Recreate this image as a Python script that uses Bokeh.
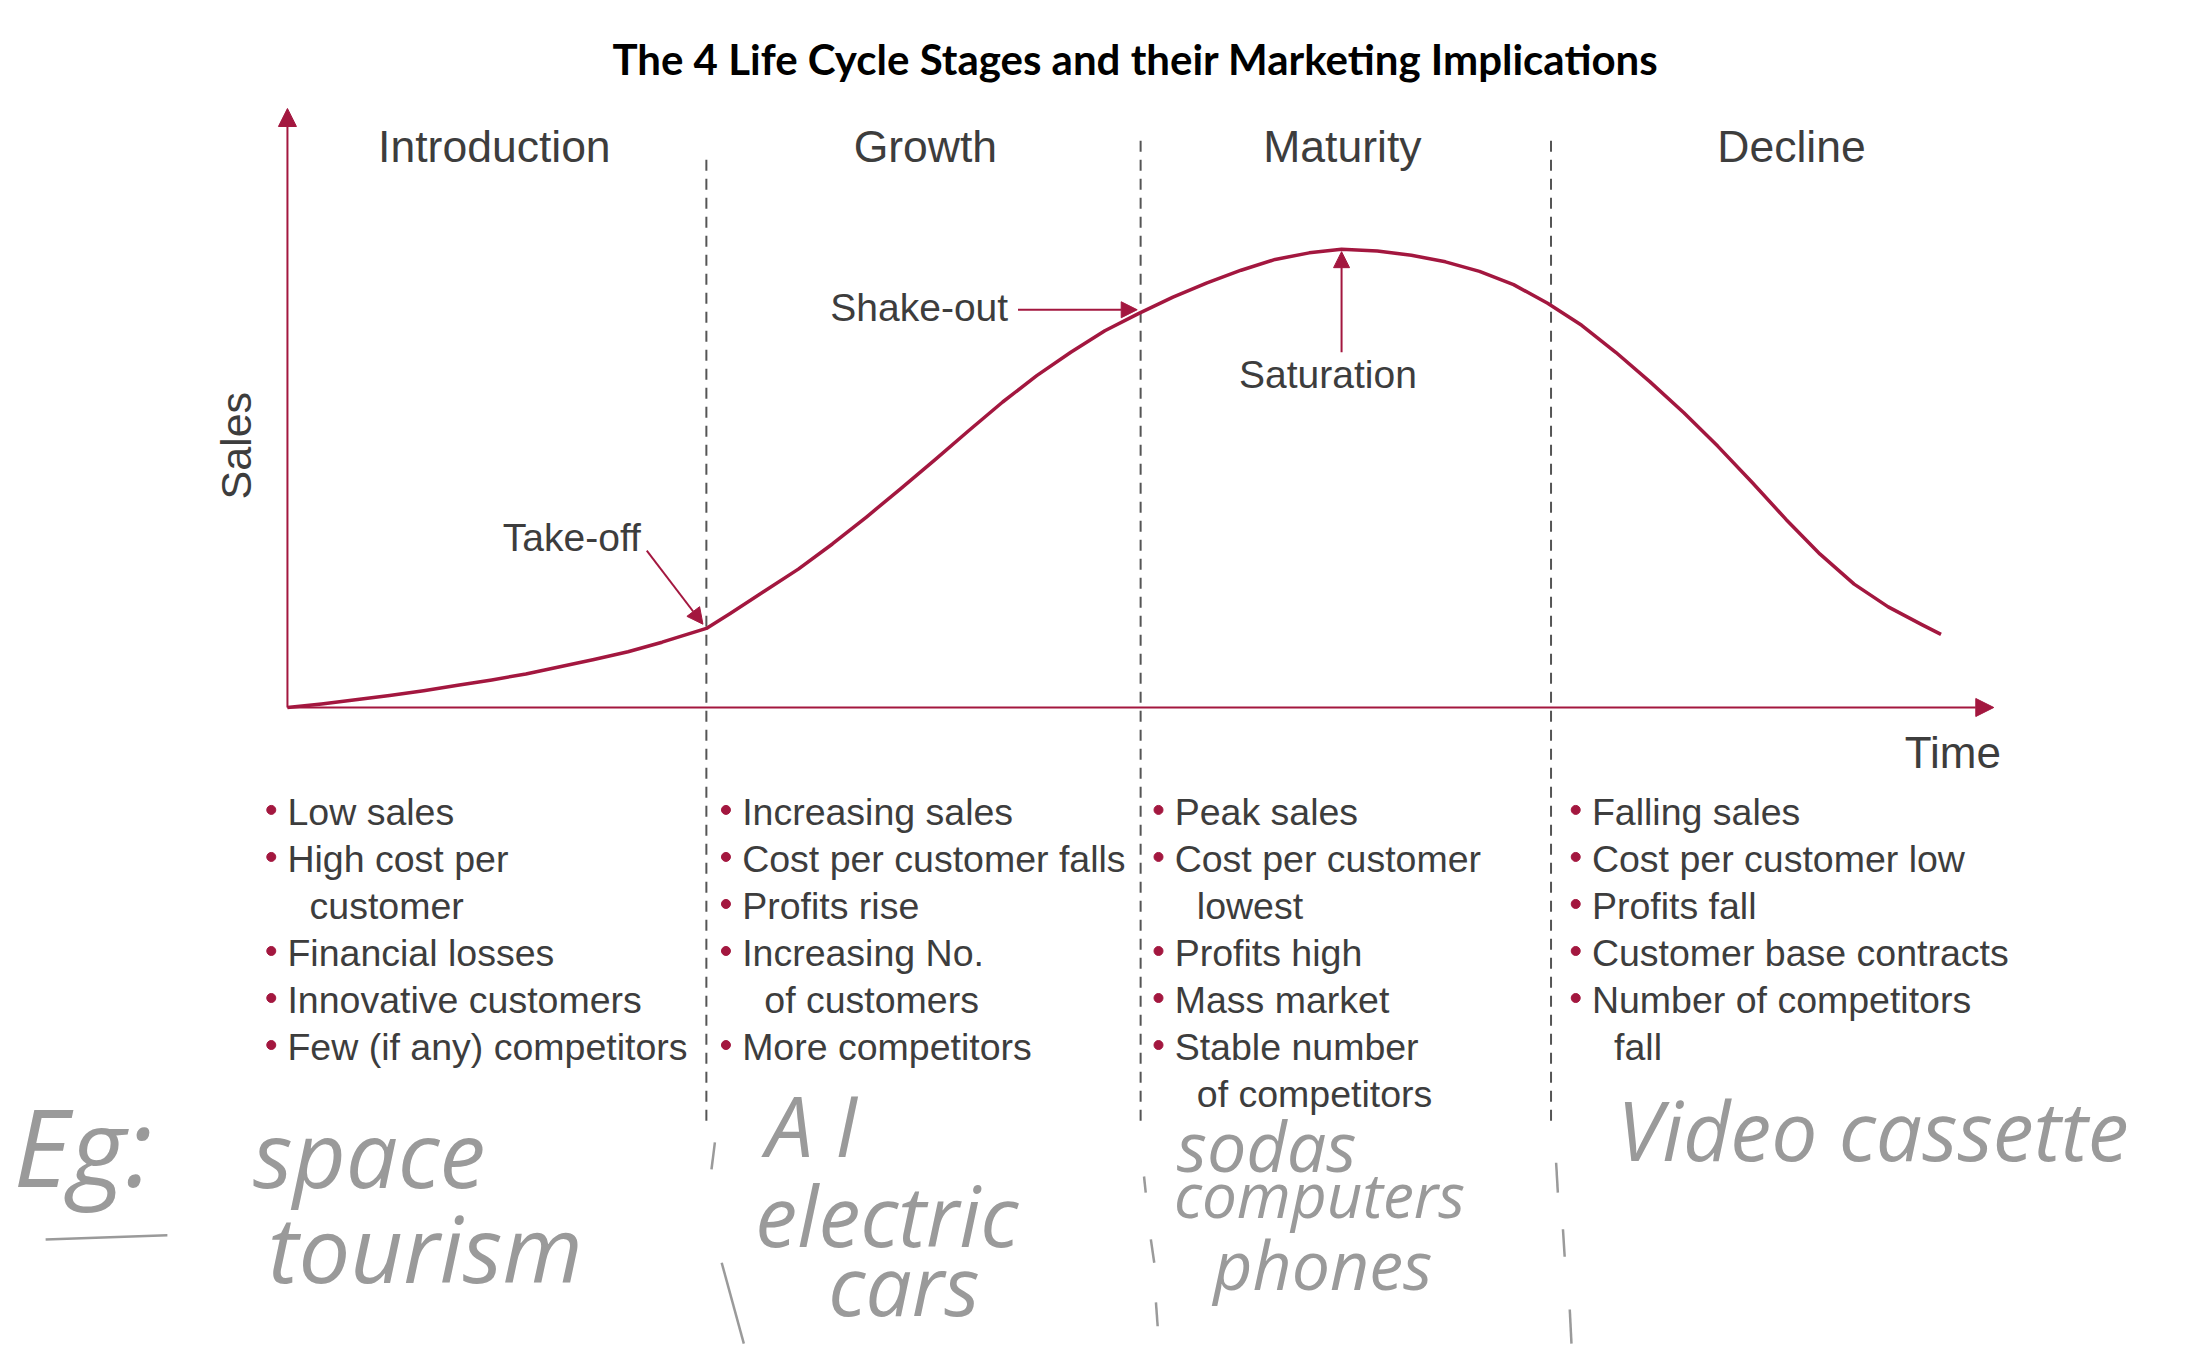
from bokeh.plotting import figure
from bokeh.models import Range1d, Arrow, NormalHead
from bokeh.embed import file_html
from bokeh.resources import INLINE
from bokeh.core.properties import value

# ---------------- data ----------------
title_text = "The 4 Life Cycle Stages and their Marketing Implications"
stages = ["Introduction", "Growth", "Maturity", "Decline"]
stage_label_t = [12.15, 37.46, 61.95, 88.32]
stage_bounds = [24.6, 50.1, 74.2]
stage_bound_top = [92.5, 94.8, 94.8]

time = [0, 2, 4, 6, 8, 10, 12, 14, 16, 18, 20, 22, 24.6,
        26, 28, 30, 32, 34, 36, 38, 40, 42, 44, 46, 48, 50, 52, 54, 56, 58, 60, 61.9,
        64, 66, 68, 70, 72, 74, 76, 78, 80, 82, 84, 86, 88, 90, 92, 94, 96, 97.1]
sales = [0, 0.6, 1.3, 2.0, 2.8, 3.7, 4.6, 5.6, 6.8, 8.0, 9.3, 10.9, 13.2,
         15.7, 19.4, 23.1, 27.3, 31.8, 36.5, 41.3, 46.2, 51.0, 55.4, 59.3, 62.9, 65.8,
         68.5, 70.9, 73.0, 74.8, 75.9, 76.5,
         76.2, 75.5, 74.4, 72.8, 70.6, 67.5, 63.8, 59.3, 54.4, 49.2, 43.6, 37.6, 31.4,
         25.6, 20.6, 16.8, 13.8, 12.2]

intro_points = ["Low sales", "High cost per", "  customer", "Financial losses",
                "Innovative customers", "Few (if any) competitors"]
growth_points = ["Increasing sales", "Cost per customer falls", "Profits rise",
                 "Increasing No.", "  of customers", "More competitors"]
maturity_points = ["Peak sales", "Cost per customer", "  lowest", "Profits high",
                   "Mass market", "Stable number", "  of competitors"]
decline_points = ["Falling sales", "Cost per customer low", "Profits fall",
                  "Customer base contracts", "Number of competitors", "  fall"]
all_points = [intro_points, growth_points, maturity_points, decline_points]

handwritten = ["Eg:", "space", "tourism", "A I", "electric", "cars",
               "sodas", "computers", "phones", "Video cassette"]

# ---------------- style / layout ----------------
CRIMSON = "#a3173f"
TEXT = "#3d3d3d"
HAND = "#9a9a9a"
FONT = value("Liberation Sans")

p = figure(width=2175, height=1346, output_backend="svg", toolbar_location=None,
           x_range=Range1d(-16.85, 110.87), y_range=Range1d(-106.68, 118.03),
           x_axis_location=None, y_axis_location=None, min_border=0,
           outline_line_color=None)
p.grid.visible = False
p.background_fill_color = "white"

# title
p.text(x=[49.8], y=[108.3], text=[title_text], text_font=value("Lato"),
       text_font_style="bold", text_font_size="42px", text_color="black",
       text_align="center", text_baseline="middle")

# stage labels
p.text(x=stage_label_t, y=[93.7] * 4, text=stages, text_font=FONT,
       text_font_size="44.5px", text_color=TEXT, text_align="center", text_baseline="middle")

# stage boundaries
p.segment(x0=stage_bounds, x1=stage_bounds, y0=[-69] * 3, y1=stage_bound_top,
          line_color="#555555", line_width=2, line_dash="11 8")

# axes arrows
p.add_layout(Arrow(end=NormalHead(size=18, fill_color=CRIMSON, line_color=CRIMSON),
                   x_start=0, y_start=0, x_end=0, y_end=100,
                   line_color=CRIMSON, line_width=2))
p.add_layout(Arrow(end=NormalHead(size=18, fill_color=CRIMSON, line_color=CRIMSON),
                   x_start=0, y_start=0, x_end=100.2, y_end=0,
                   line_color=CRIMSON, line_width=2))

p.text(x=[-3.0], y=[43.7], text=["Sales"], angle=1.5708, text_font=FONT,
       text_font_size="43px", text_color=TEXT, text_align="center", text_baseline="middle")
p.text(x=[97.8], y=[-7.5], text=["Time"], text_font=FONT,
       text_font_size="44px", text_color=TEXT, text_align="center", text_baseline="middle")

# life-cycle curve
p.line(x=time, y=sales, line_color=CRIMSON, line_width=3.5, line_join="round")

# annotations
ann_text = ["Take-off", "Shake-out", "Saturation"]
ann_x = [16.7, 37.1, 61.1]
ann_y = [28.4, 66.8, 55.6]
p.text(x=ann_x, y=ann_y, text=ann_text, text_font=FONT, text_font_size="39px",
       text_color=TEXT, text_align="center", text_baseline="middle")
for xs, ys, xe, ye in [(21.1, 26.2, 24.4, 13.9), (42.9, 66.4, 49.9, 66.4),
                       (61.9, 59.3, 61.9, 76.1)]:
    p.add_layout(Arrow(end=NormalHead(size=16, fill_color=CRIMSON, line_color=CRIMSON),
                       x_start=xs, y_start=ys, x_end=xe, y_end=ye,
                       line_color=CRIMSON, line_width=2))

# bullet lists
col_x = [0.0, 26.7, 52.1, 76.6]
row_y0, row_step = -17.4, -7.85
tx, ty, tt, dx, dy = [], [], [], [], []
for cx, pts in zip(col_x, all_points):
    for i, s in enumerate(pts):
        y = row_y0 + i * row_step
        if s.startswith("  "):
            tx.append(cx + 1.3)
            tt.append(s.strip())
        else:
            tx.append(cx)
            tt.append(s)
            dx.append(cx - 0.95)
            dy.append(y + 0.3)
        ty.append(y)
p.text(x=tx, y=ty, text=tt, text_font=FONT, text_font_size="37.5px", text_color=TEXT,
       text_align="left", text_baseline="middle")
p.scatter(x=dx, y=dy, size=9, marker="circle", fill_color=CRIMSON, line_color=CRIMSON)

# handwritten notes
hx = [-12.0, 4.8, 8.1, 30.8, 35.2, 36.2, 57.5, 60.6, 60.8, 93.1]
hy = [-73.1, -74.3, -90.2, -69.6, -84.6, -96.3, -73.1, -81.3, -92.8, -70.3]
hs = ["108px", "92px", "92px", "84px", "84px", "82px", "70px", "62px", "68px", "82px"]
p.text(x=hx, y=hy, text=handwritten, text_font=value("Open Sans"), text_font_style="italic",
       text_font_size=hs, text_color=HAND, text_align="center", text_baseline="middle")
p.multi_line(xs=[[-14.2, -7.05], [25.1, 24.9], [25.5, 26.8], [50.3, 50.4], [50.7, 50.9],
                 [51.0, 51.1], [74.5, 74.6], [74.9, 75.0], [75.3, 75.4]],
             ys=[[-88.8, -88.1], [-72.6, -77.1], [-92.7, -106.2], [-78.3, -81.0], [-88.8, -92.7],
                 [-99.3, -103.3], [-76.0, -81.0], [-87.1, -91.7], [-100.5, -106.2]],
             line_color=HAND, line_width=2.5)

open("out.html", "w").write(file_html(p, INLINE))
